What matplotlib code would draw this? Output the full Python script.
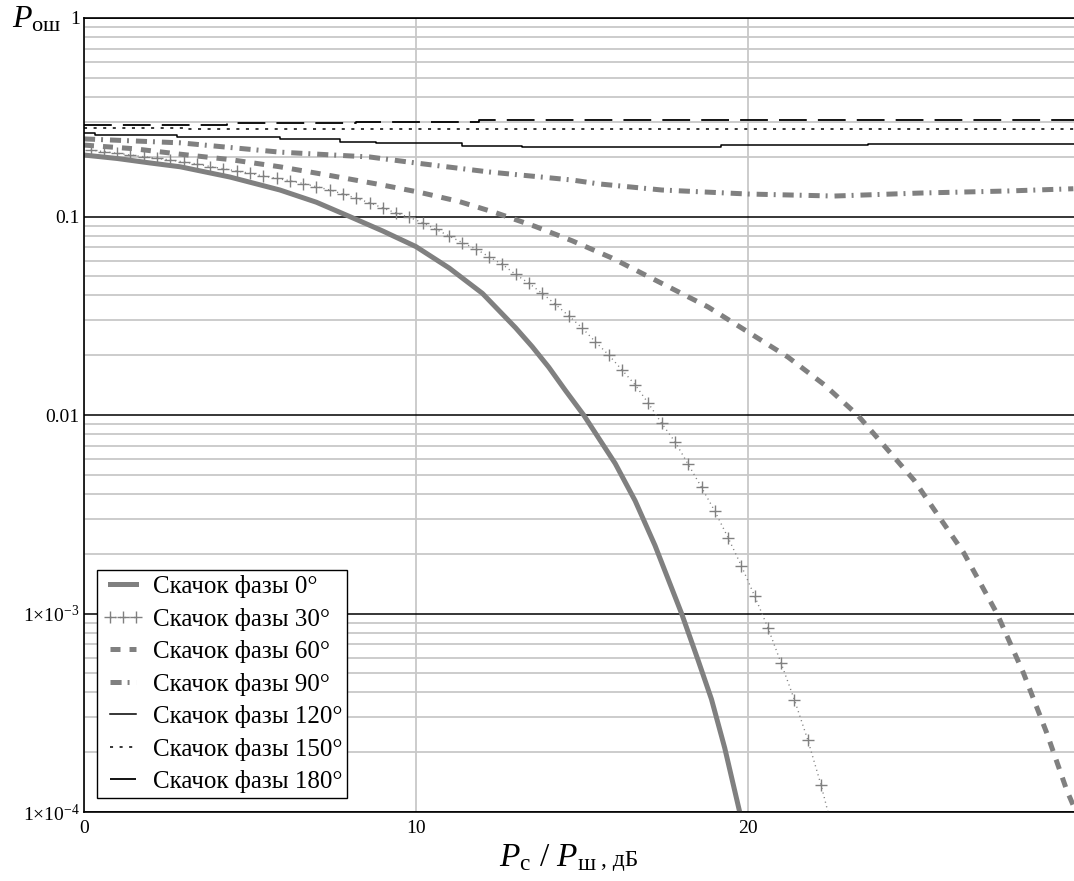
import numpy as np
import matplotlib
matplotlib.use("Agg")
import matplotlib.pyplot as plt
from matplotlib.ticker import FixedLocator, LogLocator, NullFormatter

plt.rcParams['font.family'] = ['Liberation Serif', 'DejaVu Serif']
plt.rcParams['mathtext.fontset'] = 'custom'
plt.rcParams['mathtext.rm'] = 'Liberation Serif'
plt.rcParams['mathtext.it'] = 'Liberation Serif:italic'
plt.rcParams['lines.scale_dashes'] = False

# --- data (SNR in dB, error probability) ---
snr_0 = [0, 1.0, 2.0, 2.9, 4.4, 5.9, 7.0, 8.0, 9.0, 10.0, 11.0, 12.0, 13.0, 13.5,
         14.0, 14.5, 15.05, 16.0, 16.6, 17.2, 18.0, 18.5, 18.9, 19.3, 19.75, 19.9]
p_0 = [0.204, 0.196, 0.186, 0.178, 0.158, 0.136, 0.118, 0.100, 0.0845, 0.0705,
       0.055, 0.041, 0.0275, 0.0221, 0.0174, 0.0133, 0.0100, 0.0057, 0.0037, 0.0022,
       0.0010, 0.00058, 0.00037, 0.00021, 0.0001, 0.00008]

snr_30 = [0.2, 0.6, 1.0, 1.4, 1.8, 2.2, 2.6, 3.0, 3.4, 3.8, 4.2, 4.6, 5.0, 5.4, 5.8,
          6.2, 6.6, 7.0, 7.4, 7.8, 8.2, 8.6, 9.0, 9.4, 9.8, 10.2, 10.6, 11.0, 11.4,
          11.8, 12.2, 12.6, 13.0, 13.4, 13.8, 14.2, 14.6, 15.0, 15.4, 15.8, 16.2,
          16.6, 17.0, 17.4, 17.8, 18.2, 18.6, 19.0, 19.4, 19.8, 20.2, 20.6, 21.0,
          21.4, 21.8, 22.2, 22.6]
p_30 = [0.2163, 0.2121, 0.2082, 0.2041, 0.2001, 0.1964, 0.1926, 0.1882, 0.1839,
        0.1786, 0.1739, 0.1695, 0.1650, 0.1600, 0.1557, 0.1515, 0.1466, 0.1413,
        0.1360, 0.1298, 0.1235, 0.1173, 0.1104, 0.1041, 0.0989, 0.0931, 0.0862,
        0.0797, 0.0738, 0.0686, 0.0627, 0.0574, 0.0511, 0.0461, 0.0410, 0.0361,
        0.0316, 0.0275, 0.0234, 0.0201, 0.0169, 0.0142, 0.01145, 0.00908, 0.00734,
        0.00564, 0.00432, 0.00328, 0.00241, 0.00174, 0.001225, 0.000848, 0.000561,
        0.000367, 0.000231, 0.000137, 0.000075]

snr_60 = [0, 1.5, 2.9, 4.4, 5.9, 7.4, 8.9, 10.1, 11.3, 12.4, 13.6, 14.7, 15.9, 17.6,
          18.8, 20.0, 21.2, 22.3, 22.9, 23.3, 25.0, 26.5, 27.5, 28.3, 29.0, 29.6, 30.0]
p_60 = [0.229, 0.2195, 0.206, 0.1935, 0.178, 0.161, 0.145, 0.1325, 0.119, 0.1045,
        0.089, 0.0755, 0.0618, 0.0443, 0.035, 0.0262, 0.0196, 0.0142, 0.0115, 0.010,
        0.0047, 0.00202, 0.001, 0.0005, 0.00025, 0.000129, 0.00009]

snr_90 = [0, 2.9, 5.9, 8.6, 10.0, 12.2, 14.7, 15.5, 17.4, 20.0, 22.6, 25.2, 27.8, 29.8]
p_90 = [0.246, 0.235, 0.211, 0.1995, 0.186, 0.1676, 0.1527, 0.146, 0.136, 0.1298,
        0.1268, 0.1313, 0.1344, 0.138]

snr_120 = [0, 0.33, 2.8, 5.9, 7.7, 8.8, 11.4, 13.2, 19.2, 23.6, 30.0]
p_120 = [0.263, 0.257, 0.251, 0.246, 0.237, 0.235, 0.227, 0.224, 0.229, 0.233, 0.233]

snr_150 = [0, 3.1, 30.0]
p_150 = [0.279, 0.275, 0.275]

snr_180 = [0, 4.3, 8.2, 11.9, 30.0]
p_180 = [0.289, 0.295, 0.300, 0.306, 0.306]

labels = ["Скачок фазы 0°", "Скачок фазы 30°", "Скачок фазы 60°", "Скачок фазы 90°",
          "Скачок фазы 120°", "Скачок фазы 150°", "Скачок фазы 180°"]

gray = "#808080"

fig = plt.figure(figsize=(10.74, 8.81), dpi=100)
ax = fig.add_axes([84 / 1074, 69 / 881, 990 / 1074, 794 / 881])

ax.plot(snr_0, p_0, color=gray, lw=3.6, label=labels[0])
ax.plot(snr_30, p_30, color=gray, lw=1.0, ls=(0, (0.8, 2.6)), marker="+", ms=9,
        mew=1.0, label=labels[1])
ax.plot(snr_60, p_60, color=gray, lw=3.6, ls=(0, (7.2, 6.5)), dash_capstyle="butt",
        label=labels[2])
ax.plot(snr_90, p_90, color=gray, lw=3.6, ls=(0, (8.0, 4.3, 1.4, 5.0)),
        dash_capstyle="butt", label=labels[3])
ax.plot(snr_120, p_120, color="black", lw=1.1, drawstyle="steps-post", label=labels[4])
ax.plot(snr_150, p_150, color="black", lw=1.1, ls=(0, (2.2, 4.7)),
        drawstyle="steps-post", label=labels[5])
ax.plot(snr_180, p_180, color="black", lw=1.3, ls=(0, (20, 8)),
        drawstyle="steps-post", label=labels[6])

ax.set_yscale("log")
ax.set_ylim(1e-4, 1)
ax.set_xlim(0, 29.82)

ax.yaxis.set_major_locator(FixedLocator([1e-4, 1e-3, 1e-2, 1e-1, 1]))
ax.set_yticklabels([r"$1{\times}10^{-4}$", r"$1{\times}10^{-3}$", "0.01", "0.1", "1"])
ax.yaxis.set_minor_locator(LogLocator(base=10, subs=np.arange(2, 10)))
ax.yaxis.set_minor_formatter(NullFormatter())
ax.xaxis.set_major_locator(FixedLocator([0, 10, 20]))
ax.set_xticklabels(["0", "10", "20"])

ax.grid(True, which="minor", axis="y", color="#c8c8c8", lw=1.3)
ax.grid(True, which="major", axis="y", color="black", lw=1.1)
ax.grid(True, which="major", axis="x", color="#c8c8c8", lw=1.3)
ax.set_axisbelow(True)

ax.tick_params(which="both", length=0, labelsize=14)
ax.tick_params(axis="y", pad=3)
ax.tick_params(axis="x", pad=6)
for s in ["left", "top", "bottom"]:
    ax.spines[s].set_linewidth(1.2)
    ax.spines[s].set_color("black")
ax.spines["right"].set_visible(False)

leg = ax.legend(loc="lower left", bbox_to_anchor=(0.0135, 0.0175), borderaxespad=0,
                fontsize=18, numpoints=3, handlelength=1.65, handletextpad=0.36,
                labelspacing=0.38, borderpad=0.2, fancybox=False, framealpha=1,
                edgecolor="black")
leg.get_frame().set_linewidth(1.0)

fig.text(12 / 1074, 1 - 28 / 881, r"$P_{\mathrm{ош}}$", fontsize=23, va="baseline")
fig.text(597 / 1074, 1 - 866 / 881, r"$P_{\mathrm{с}}$ / $P_{\mathrm{ш}}$",
         fontsize=24, ha="right", va="baseline")
fig.text(601 / 1074, 1 - 866 / 881, ", дБ", fontsize=17, ha="left", va="baseline")

fig.savefig("out.png", dpi=100)
